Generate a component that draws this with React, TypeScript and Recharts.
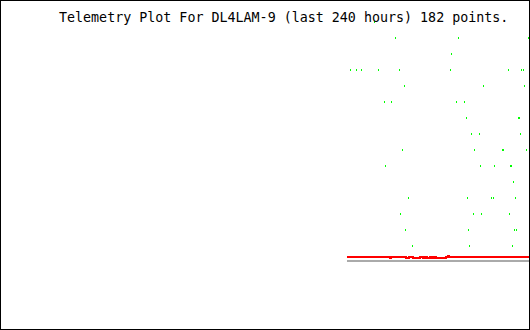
import { ComposedChart, Scatter, Line, XAxis, YAxis } from 'recharts';

// time axis: hours into the 240 hour window (240 = now)
const HOURS_DOMAIN = [0, 240];

// green telemetry samples (hour, quantised level)
const dotHours = [
  158.72, 161.43, 163.70, 169.58, 171.40, 174.11, 174.57, 177.28, 179.09, 180.91,
  181.36, 182.26, 183.17, 183.62, 184.98, 186.79, 204.00, 204.45, 206.72, 207.62,
  210.34, 211.25, 211.70, 212.15, 212.60, 213.51, 214.42, 214.87, 217.13, 217.58,
  218.04, 218.94, 222.57, 223.47, 223.92, 227.55, 228.00, 230.26, 230.72, 231.17,
  231.62, 232.08, 232.53, 232.98, 233.43, 233.89, 234.79, 235.25, 235.70, 236.15,
  237.06, 237.51, 238.42, 239.32,
];
const dotLevels = [
  11, 11, 11, 14, 11, 9, 5, 9, 13, 11,
  2, 6, 10, 1, 3, 0, 11, 12, 9, 13,
  9, 8, 3, 1, 0, 7, 2, 6, 7, 5,
  2, 10, 3, 3, 5, 6, 6, 11, 2, 5,
  5, 0, 4, 1, 3, 1, 8, 8, 7, 11,
  11, 10, 6, 13,
];

// red channel (step changes)
const redHours = [
  157.13, 176.60, 177.06, 183.85, 185.21, 187.02, 190.19, 191.55, 192.45, 193.36,
  194.72, 195.62, 196.53, 197.43, 201.96, 202.87, 203.32, 240,
];
const redValues = [
  7.3, 7.2, 7.3, 7.2, 7.3, 7.2, 7.3, 7.2, 7.3, 7.2,
  7.3, 7.2, 7.3, 7.2, 7.3, 7.4, 7.3, 7.3,
];

// gray channel
const grayHours = [157.13, 240];
const grayValues = [6.9, 6.9];

const dots = dotHours.map((h, i) => ({ h, lvl: dotLevels[i] }));
const red = redHours.map((h, i) => ({ h, v: redValues[i] }));
const gray = grayHours.map((h, i) => ({ h, v: grayValues[i] }));

const Dot = (props: any) => {
  if (props.cx == null || props.cy == null) return null;
  return (
    <rect
      x={Math.floor(props.cx)}
      y={Math.round(props.cy) - 1}
      width={1}
      height={2}
      fill="#00ff00"
    />
  );
};

export default function App() {
  return (
    <div style={{ position: 'absolute', top: 0, left: 0, width: 530, height: 330, background: '#fff' }}>
      <ComposedChart width={530} height={330} margin={{ top: 0, right: 0, bottom: 0, left: 0 }}>
        <XAxis type="number" dataKey="h" domain={HOURS_DOMAIN} hide allowDataOverflow />
        <YAxis yAxisId="lvl" type="number" dataKey="lvl" domain={[-5.25, 15.375]} hide allowDataOverflow />
        <YAxis yAxisId="v" type="number" dataKey="v" domain={[0, 33]} hide allowDataOverflow />
        <Line
          yAxisId="v"
          data={gray}
          dataKey="v"
          stroke="#aaaaaa"
          strokeWidth={2}
          dot={false}
          activeDot={false}
          isAnimationActive={false}
        />
        <Line
          yAxisId="v"
          data={red}
          dataKey="v"
          type="stepAfter"
          stroke="#ff0000"
          strokeWidth={2}
          dot={false}
          activeDot={false}
          isAnimationActive={false}
        />
        <Scatter yAxisId="lvl" data={dots} dataKey="lvl" shape={<Dot />} isAnimationActive={false} />
      </ComposedChart>
      <svg
        width={530}
        height={330}
        style={{ position: 'absolute', top: 0, left: 0, pointerEvents: 'none' }}
      >
        <text x={59} y={22} fontFamily="'DejaVu Sans Mono', monospace" fontSize={13.33} fill="#000">
          Telemetry Plot For DL4LAM-9 (last 240 hours) 182 points.
        </text>
        <rect x={0.5} y={0.5} width={529} height={329} fill="none" stroke="#000" strokeWidth={1} />
      </svg>
    </div>
  );
}
